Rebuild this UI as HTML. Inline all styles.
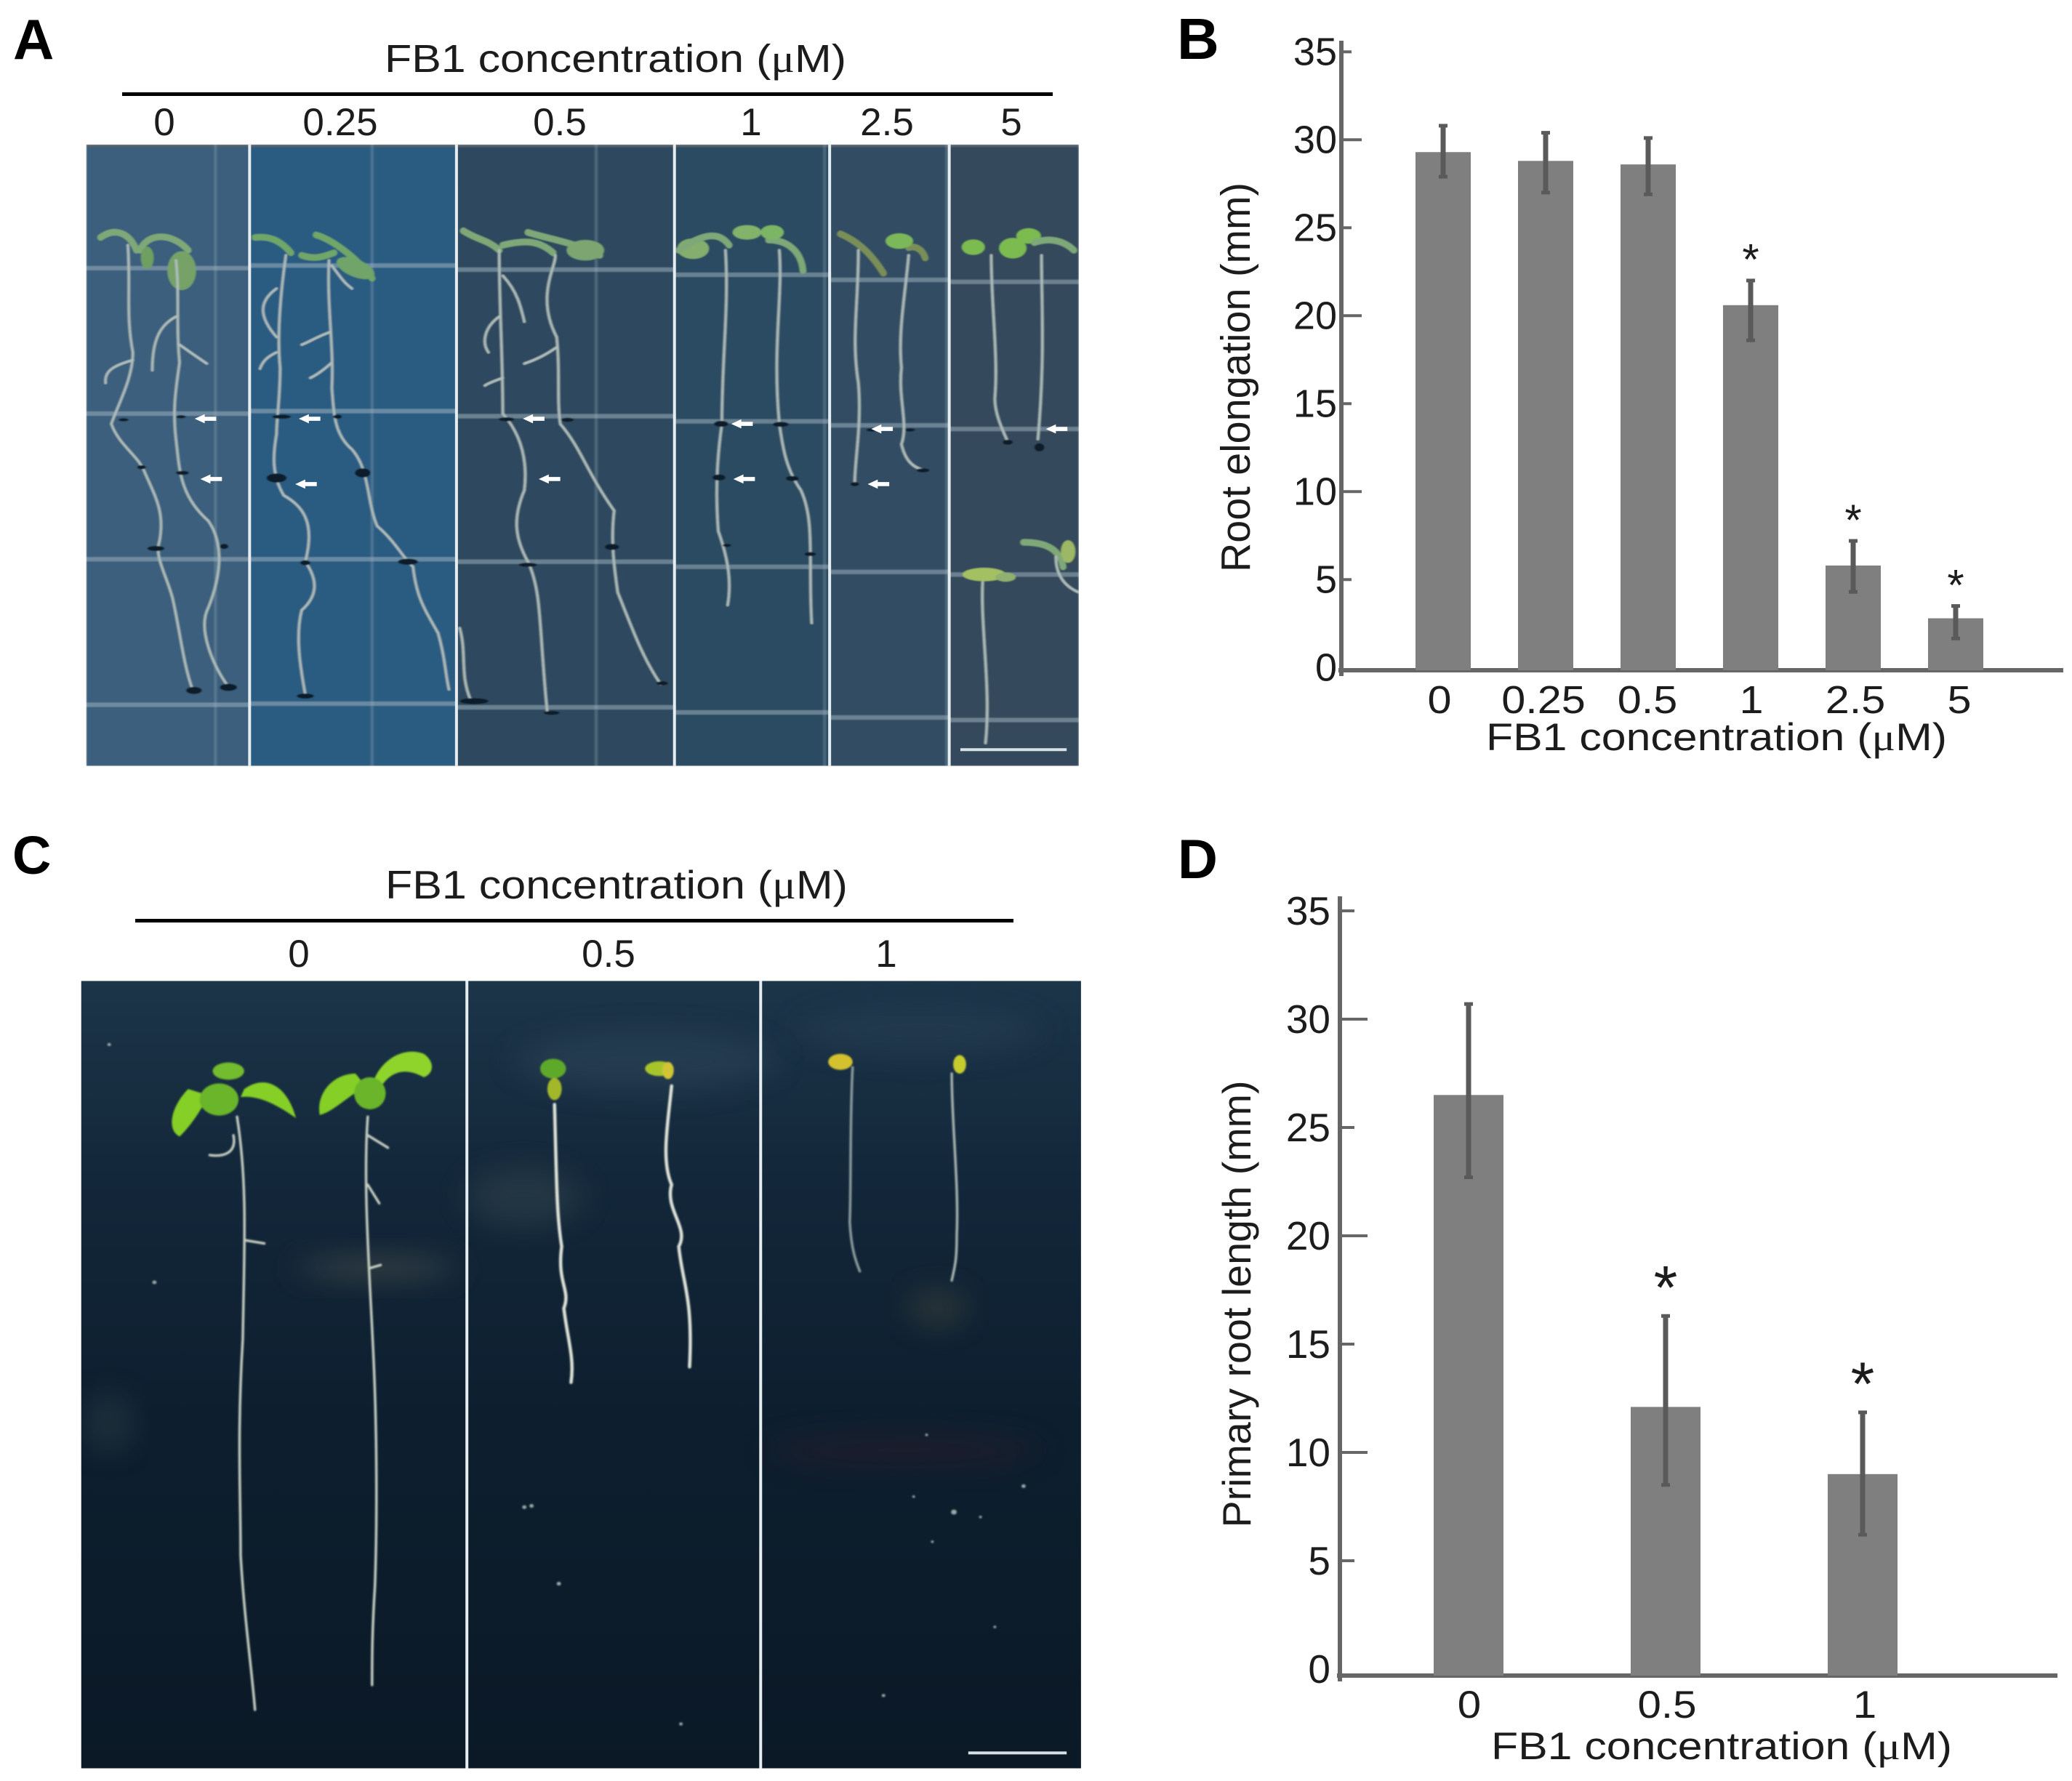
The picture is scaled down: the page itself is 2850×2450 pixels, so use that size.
<!DOCTYPE html>
<html lang="en">
<head>
<meta charset="utf-8">
<title>FB1 concentration root growth figure</title>
<style>
html,body{margin:0;padding:0;background:#fff;}
svg{display:block;}
text{font-family:"Liberation Sans",sans-serif;fill:#1c1c1c;}
.ns *{vector-effect:non-scaling-stroke;}
.root{fill:none;stroke:#aebdbb;stroke-width:3.5;stroke-linecap:round;}
.grid{stroke:#a3b8c4;stroke-opacity:.5;stroke-width:6;fill:none;}
.vgrid{stroke:#a3b8c4;stroke-opacity:.28;stroke-width:4;fill:none;}
.div{stroke:#e6edf0;stroke-width:4;fill:none;}
.leaf{fill:none;stroke:#7fa878;stroke-width:9;stroke-linecap:round;}
.mark{fill:#0e1c2a;}
.croot{fill:none;stroke:#c4ccc0;stroke-width:3.5;stroke-linecap:round;}
.arrow{fill:#fff;stroke:none;}
</style>
</head>
<body>
<svg xmlns="http://www.w3.org/2000/svg" width="2850" height="2450" viewBox="0 0 2850 2450">
<defs>
<clipPath id="clipA"><rect x="120" y="283" width="1382" height="1217"/></clipPath>
<clipPath id="clipC"><rect x="113" y="270" width="1392" height="1275"/></clipPath>
<filter id="soft" x="-2%" y="-2%" width="104%" height="104%"><feGaussianBlur stdDeviation="1.2"/></filter>
<filter id="haze" x="-30%" y="-60%" width="160%" height="220%"><feGaussianBlur stdDeviation="22"/></filter>
<linearGradient id="gC" x1="0" y1="0" x2="0" y2="1">
<stop offset="0" stop-color="#1c3549"/><stop offset=".25" stop-color="#13273a"/><stop offset=".55" stop-color="#0d1f2f"/><stop offset="1" stop-color="#0b1926"/>
</linearGradient>
<path id="arw" d="M-16 0 L-2 -9 L-2 -4 L14 -4 L14 4 L-2 4 L-2 9 Z"/>
</defs>
<rect width="2850" height="2450" fill="#fff"/>

<text x="18" y="81" font-size="78" font-weight="700" style="fill:#000">A</text>
<text x="1619" y="81" font-size="80" font-weight="700" style="fill:#000">B</text>
<text x="17" y="1202" font-size="74" font-weight="700" style="fill:#000">C</text>
<text x="1620" y="1208" font-size="76" font-weight="700" style="fill:#000">D</text>

<text x="529" y="99" font-size="54" textLength="635" lengthAdjust="spacingAndGlyphs">FB1 concentration (<tspan style="font-family:'Liberation Serif',serif">μ</tspan>M)</text>
<rect x="168" y="127" width="1280" height="5" fill="#000"/>
<g font-size="53" text-anchor="middle">
<text x="226" y="186" text-anchor="middle">0</text>
<text x="468" y="186" text-anchor="middle">0.25</text>
<text x="770" y="186" text-anchor="middle">0.5</text>
<text x="1033" y="186" text-anchor="middle">1</text>
<text x="1220" y="186" text-anchor="middle">2.5</text>
<text x="1391" y="186" text-anchor="middle">5</text>
</g>

<g class="ns" transform="scale(0.988,0.7025)">
<g clip-path="url(#clipA)">
<g filter="url(#soft)">
<rect x="120" y="283" width="228" height="1217" fill="#3a5f7c"/>
<rect x="348" y="283" width="288" height="1217" fill="#2c5c82"/>
<rect x="636" y="283" width="304" height="1217" fill="#2f4a5e"/>
<rect x="940" y="283" width="216" height="1217" fill="#2c4b62"/>
<rect x="1156" y="283" width="166" height="1217" fill="#324d63"/>
<rect x="1322" y="283" width="180" height="1217" fill="#34485c"/>
<rect x="120" y="283" width="1382" height="5" fill="#55606a"/>

<path class="grid" d="M120 525H348M120 810H348M120 1095H348M120 1380H348M348 520H636M348 805H636M348 1095H636M348 1378H636M636 528H940M636 815H940M636 1100H940M636 1385H940M940 538H1156M940 825H1156M940 1110H1156M940 1395H1156M1156 548H1322M1156 833H1322M1156 1120H1322M1156 1405H1322M1322 552H1502M1322 840H1502M1322 1125H1502M1322 1410H1502"/>
<path class="vgrid" d="M300 283V1500M518 283V1500M830 283V1500M1148 283V1500M1318 283V1500"/>

<g>
<path class="leaf" d="M140 465C160 445 180 455 190 490M195 490C205 455 240 455 262 490"/>
<ellipse cx="253" cy="530" rx="20" ry="38" fill="#76a267"/>
<ellipse cx="205" cy="505" rx="9" ry="22" fill="#6f9f62"/>
<path class="leaf" style="stroke:#6fa668" d="M355 465C375 462 390 470 405 495M440 460C465 470 500 510 518 545M420 500C440 510 455 500 465 495"/>
<ellipse cx="495" cy="525" rx="30" ry="16" transform="rotate(35 495 525)" fill="#6fa468"/>
<path class="leaf" d="M645 452C665 470 680 470 695 490M735 455C770 470 800 475 835 500M700 480C730 470 750 470 770 495"/>
<ellipse cx="815" cy="490" rx="26" ry="20" fill="#7ca572"/>
<ellipse cx="965" cy="487" rx="22" ry="20" fill="#84ad6e"/>
<ellipse cx="1040" cy="455" rx="20" ry="14" fill="#82b36a"/>
<path class="leaf" d="M945 490C975 460 1000 450 1015 480M1070 470C1095 470 1115 490 1118 530"/>
<ellipse cx="1075" cy="455" rx="16" ry="14" fill="#7db566"/>
<path class="leaf" style="stroke:#7a8f58" d="M1170 458C1190 470 1210 490 1230 535M1265 485C1275 480 1285 490 1288 505"/>
<ellipse cx="1252" cy="472" rx="19" ry="15" fill="#7cb85a"/>
<ellipse cx="1355" cy="484" rx="16" ry="15" fill="#7cbb50"/>
<ellipse cx="1410" cy="486" rx="19" ry="20" fill="#7cbb50"/>
<ellipse cx="1432" cy="462" rx="17" ry="15" fill="#7cbb50"/>
<path class="leaf" d="M1440 475C1460 465 1480 470 1495 490"/>
<ellipse cx="1370" cy="1125" rx="30" ry="13" fill="#a3c164"/>
<ellipse cx="1400" cy="1130" rx="14" ry="9" fill="#8fb070"/>
<path class="leaf" d="M1425 1062C1450 1062 1475 1070 1480 1110"/>
<ellipse cx="1487" cy="1080" rx="10" ry="22" fill="#9cb866"/>
</g>

<g>
<path class="root" d="M178 480C182 560 175 620 185 690C185 740 165 790 155 830C165 870 190 890 200 920C215 970 230 1000 222 1060C215 1090 230 1120 240 1170C250 1230 255 1300 268 1350"/>
<path class="root" d="M245 510C250 570 245 640 250 710C245 760 240 800 245 860C250 920 250 970 290 1020C310 1060 310 1120 290 1190C275 1230 295 1300 318 1345"/>
<path class="root" d="M185 705C160 715 145 725 147 750M245 620C225 635 212 660 212 725M250 675C265 690 275 700 288 712"/>
<path class="root" d="M398 500C392 560 385 650 390 720C390 780 385 820 385 850C380 890 378 930 395 970C420 990 440 1020 425 1100C445 1140 440 1170 420 1195C410 1250 420 1320 425 1360"/>
<path class="root" d="M458 510C455 600 465 680 462 760C465 810 465 850 490 880C515 920 510 980 525 1030C550 1060 560 1090 575 1110C580 1170 590 1190 610 1240C620 1290 620 1320 625 1350"/>
<path class="root" d="M385 565C360 590 360 620 385 660M385 690C370 700 365 710 362 722M460 650C440 660 430 670 420 675M462 710C450 725 440 735 432 740M462 520C475 545 480 555 490 565"/>
<path class="root" d="M695 490C695 600 700 700 700 810C725 850 735 900 730 960C715 1010 715 1050 735 1100C755 1160 750 1230 762 1395"/>
<path class="root" d="M773 500C775 520 745 580 775 660C780 730 775 780 780 830C810 880 815 920 855 1000C850 1060 855 1110 860 1160C880 1230 895 1290 920 1340"/>
<path class="root" d="M640 1230C650 1280 640 1320 655 1370M700 540C720 570 725 600 730 630M695 620C675 640 670 670 680 690M700 740C690 745 680 750 675 755M775 680C760 695 745 705 730 712"/>
<path class="root" d="M1010 490C1015 600 1005 700 1005 830C1000 880 995 950 1000 1040C1010 1080 1020 1130 1013 1185"/>
<path class="root" d="M1085 490C1090 580 1075 680 1085 830C1090 880 1095 920 1115 960C1135 1020 1125 1100 1130 1220"/>
<path class="root" d="M1195 490C1195 600 1185 660 1195 750C1200 830 1190 900 1190 945"/>
<path class="root" d="M1265 500C1260 580 1250 650 1255 720C1250 780 1265 830 1255 870C1260 900 1270 915 1285 920"/>
<path class="root" d="M1380 500C1380 600 1390 700 1385 780C1385 810 1395 840 1403 865"/>
<path class="root" d="M1450 500C1450 600 1455 700 1445 860"/>
<path class="root" d="M1368 1140C1365 1230 1380 1350 1372 1455M1470 1090C1470 1130 1485 1150 1502 1160"/>
</g>

<g>
<ellipse class="mark" cx="172" cy="822" rx="7" ry="3"/><ellipse class="mark" cx="252" cy="816" rx="7" ry="3"/>
<ellipse class="mark" cx="197" cy="915" rx="6" ry="4"/><ellipse class="mark" cx="254" cy="926" rx="9" ry="4"/>
<ellipse class="mark" cx="217" cy="1074" rx="12" ry="5"/><ellipse class="mark" cx="312" cy="1070" rx="6" ry="5"/>
<ellipse class="mark" cx="270" cy="1352" rx="11" ry="7"/><ellipse class="mark" cx="318" cy="1346" rx="12" ry="7"/>
<ellipse class="mark" cx="392" cy="816" rx="13" ry="4"/><ellipse class="mark" cx="470" cy="816" rx="6" ry="4"/>
<ellipse class="mark" cx="385" cy="936" rx="14" ry="9"/><ellipse class="mark" cx="505" cy="926" rx="11" ry="9"/>
<ellipse class="mark" cx="425" cy="1102" rx="7" ry="5"/><ellipse class="mark" cx="568" cy="1100" rx="14" ry="6"/>
<ellipse class="mark" cx="425" cy="1363" rx="12" ry="5"/><ellipse class="mark" cx="705" cy="821" rx="11" ry="4"/>
<ellipse class="mark" cx="790" cy="822" rx="9" ry="4"/><ellipse class="mark" cx="735" cy="1106" rx="13" ry="4"/>
<ellipse class="mark" cx="852" cy="1071" rx="10" ry="6"/><ellipse class="mark" cx="660" cy="1373" rx="20" ry="6"/>
<ellipse class="mark" cx="768" cy="1396" rx="11" ry="4"/><ellipse class="mark" cx="922" cy="1338" rx="8" ry="4"/>
<ellipse class="mark" cx="1004" cy="830" rx="10" ry="6"/><ellipse class="mark" cx="1087" cy="831" rx="11" ry="5"/>
<ellipse class="mark" cx="1001" cy="935" rx="9" ry="6"/><ellipse class="mark" cx="1103" cy="937" rx="9" ry="5"/>
<ellipse class="mark" cx="1128" cy="1085" rx="8" ry="4"/><ellipse class="mark" cx="1012" cy="1068" rx="6" ry="3"/>
<ellipse class="mark" cx="1213" cy="842" rx="7" ry="3"/><ellipse class="mark" cx="1267" cy="842" rx="7" ry="3"/>
<ellipse class="mark" cx="1285" cy="921" rx="9" ry="4"/><ellipse class="mark" cx="1190" cy="948" rx="6" ry="4"/>
<ellipse class="mark" cx="1403" cy="866" rx="7" ry="5"/><ellipse class="mark" cx="1447" cy="876" rx="7" ry="8"/>
</g>
</g>
<g>
<use href="#arw" class="arrow" transform="translate(287,820)"/>
<use href="#arw" class="arrow" transform="translate(295,938)"/>
<use href="#arw" class="arrow" transform="translate(432,820)"/>
<use href="#arw" class="arrow" transform="translate(427,948)"/>
<use href="#arw" class="arrow" transform="translate(744,820)"/>
<use href="#arw" class="arrow" transform="translate(766,938)"/>
<use href="#arw" class="arrow" transform="translate(1034,830)"/>
<use href="#arw" class="arrow" transform="translate(1037,938)"/>
<use href="#arw" class="arrow" transform="translate(1229,840)"/>
<use href="#arw" class="arrow" transform="translate(1224,948)"/>
<use href="#arw" class="arrow" transform="translate(1472,840)"/>
</g>
<path class="div" d="M347.5 283V1500M635.5 283V1500M939 283V1500M1155 283V1500M1321.5 283V1500"/>
<path d="M1337 1468H1485" style="stroke:#d8e2e6;stroke-width:4;fill:none"/>
</g>
</g>

<text x="530" y="1236" font-size="55" textLength="636" lengthAdjust="spacingAndGlyphs">FB1 concentration (<tspan style="font-family:'Liberation Serif',serif">μ</tspan>M)</text>
<rect x="186" y="1264" width="1208" height="5" fill="#000"/>
<text x="411" y="1330" font-size="53" text-anchor="middle">0</text>
<text x="837" y="1330" font-size="53" text-anchor="middle">0.5</text>
<text x="1219" y="1330" font-size="53" text-anchor="middle">1</text>

<g class="ns" transform="translate(0,1120) scale(0.988,0.8496)">
<g clip-path="url(#clipC)">
<rect x="113" y="270" width="1392" height="1275" fill="url(#gC)"/>
<g>
<ellipse cx="525" cy="735" rx="110" ry="22" fill="#55594f" opacity=".45" filter="url(#haze)"/>
<ellipse cx="730" cy="620" rx="80" ry="50" fill="#4a5a5c" opacity=".3" filter="url(#haze)"/>
<ellipse cx="1305" cy="800" rx="40" ry="32" fill="#51503c" opacity=".4" filter="url(#haze)"/>
<ellipse cx="150" cy="985" rx="35" ry="50" fill="#3b4a50" opacity=".35" filter="url(#haze)"/>
<ellipse cx="1260" cy="1030" rx="190" ry="30" fill="#3a1b28" opacity=".3" filter="url(#haze)"/>
<ellipse cx="900" cy="400" rx="180" ry="50" fill="#3a5266" opacity=".35" filter="url(#haze)"/>
<ellipse cx="1280" cy="350" rx="170" ry="40" fill="#2e465c" opacity=".35" filter="url(#haze)"/>
</g>
<g filter="url(#soft)">
<g>
<path class="croot" d="M330 490C345 600 340 700 338 850C330 1000 335 1100 335 1200C340 1300 350 1380 355 1450"/>
<path class="croot" d="M512 490C505 600 515 750 520 880C525 1000 525 1150 522 1250C518 1320 518 1370 518 1410"/>
<path class="croot" d="M342 690L368 695M325 520C330 550 310 555 292 552M512 600L528 630M515 735L530 730M512 520L540 540"/>
<path class="croot" style="stroke:#dfe3d8;stroke-width:4.5" d="M772 470C775 600 775 650 782 700C775 760 795 770 785 800C790 850 800 880 795 920"/>
<path class="croot" style="stroke:#dfe3d8;stroke-width:4.5" d="M935 440C930 500 920 560 935 600C925 640 960 670 945 700C950 760 965 780 960 895"/>
<path class="croot" style="stroke:#8c9c9c" d="M1187 410C1183 500 1185 600 1183 660C1185 700 1190 720 1197 740"/>
<path class="croot" style="stroke:#a6b2ae" d="M1325 420C1325 500 1335 600 1332 680C1332 720 1330 730 1325 755"/>
</g>
<g>
<path d="M262 445C240 470 230 510 250 522C265 505 280 480 290 455Z" fill="#85cf26"/>
<path d="M340 445C370 420 400 440 412 492C385 470 360 455 335 458Z" fill="#85cf26"/>
<ellipse cx="305" cy="462" rx="27" ry="26" fill="#6ab52c"/>
<ellipse cx="318" cy="416" rx="22" ry="14" fill="#72bc2f"/>
<path d="M495 420C465 420 440 450 445 487C465 482 490 450 510 442Z" fill="#85cf26"/>
<path d="M520 432C530 400 560 375 590 388C605 400 605 420 590 426C565 410 545 415 530 442Z" fill="#8ed42c"/>
<ellipse cx="515" cy="452" rx="22" ry="26" fill="#6ab52c"/>
<ellipse cx="770" cy="412" rx="18" ry="16" fill="#5fa92c"/>
<ellipse cx="772" cy="445" rx="10" ry="18" fill="#a2b72a"/>
<ellipse cx="918" cy="412" rx="20" ry="12" fill="#a7c52a"/>
<ellipse cx="930" cy="415" rx="8" ry="14" fill="#d1c435"/>
<ellipse cx="1170" cy="401" rx="17" ry="13" fill="#d3c12f"/>
<ellipse cx="1336" cy="405" rx="9" ry="15" fill="#c6cb2d"/>
</g>
<g fill="#9aa8a8">
<circle cx="152" cy="373" r="2.5"/><circle cx="215" cy="758" r="3"/><circle cx="730" cy="1122" r="3"/><circle cx="740" cy="1120" r="3"/><circle cx="778" cy="1246" r="3"/><circle cx="948" cy="1473" r="2.5"/><circle cx="1230" cy="1427" r="2.5"/><circle cx="1328" cy="1130" r="4"/><circle cx="1425" cy="1088" r="3"/><circle cx="1298" cy="1178" r="2"/><circle cx="1365" cy="1138" r="2"/><circle cx="1385" cy="1316" r="2"/><circle cx="1290" cy="1005" r="2"/><circle cx="1272" cy="1105" r="2"/>
</g>
</g>
<path class="div" d="M650 270V1545M1059 270V1545"/>
<path d="M1348 1520H1485" style="stroke:#d8e2e6;stroke-width:4;fill:none"/>
</g>
</g>

<g id="chartB"></g>
<g id="chartD"></g>
</svg>

<script>
const bCategories = ['0', '0.25', '0.5', '1', '2.5', '5'];
const bValues = [29.3, 28.8, 28.6, 20.6, 5.8, 2.8];
const bErrHigh = [30.8, 30.4, 30.1, 22.0, 7.2, 3.5];
const bErrLow = [27.9, 27.0, 26.9, 18.6, 4.3, 1.65];
const bSignificant = [0, 0, 0, 1, 1, 1];
const bTicks = [0, 5, 10, 15, 20, 25, 30, 35];

const dCategories = ['0', '0.5', '1'];
const dValues = [26.5, 12.1, 9.0];
const dErrHigh = [30.7, 16.3, 11.85];
const dErrLow = [22.7, 8.5, 6.2];
const dSignificant = [0, 1, 1];
const dTicks = [0, 5, 10, 15, 20, 25, 30, 35];

const SVGNS = 'http://www.w3.org/2000/svg';
function mk(tag, attrs, parent) {
  const el = document.createElementNS(SVGNS, tag);
  for (const k in attrs) el.setAttribute(k, attrs[k]);
  parent.appendChild(el);
  return el;
}
function drawChart(root, o) {
  const axisColor = '#666666';
  const yAxis = mk('line', {x1: o.axisX, x2: o.axisX, y1: o.axisTop, y2: o.base + 8, stroke: axisColor, 'stroke-width': 6}, root);
  
  
  const xAxis = mk('line', {x1: o.axisX - 4, x2: o.axisEnd, y1: o.base, y2: o.base, stroke: axisColor, 'stroke-width': 6}, root);
  
  

  o.ticks.forEach(function (t) {
    const y = o.y(t);
    if (t !== 0) {
      const len = t % 10 === 0 ? o.majorLen : o.minorLen;
      const tk = mk('line', {x1: o.axisX, x2: o.axisX + len, y1: y, y2: y, stroke: axisColor, 'stroke-width': 4}, root);
      
      
    }
    const lb = mk('text', {x: o.tickLabelX, y: y + o.tickLabelDy, 'font-size': o.tickFont, 'text-anchor': 'end'}, root);
    lb.textContent = String(t);
    
    
  });

  o.categories.forEach(function (c, i) {
    const cx = o.x(i);
    const top = o.y(o.values[i]);
    const bar = mk('rect', {x: cx - o.barW / 2, y: top, width: o.barW, height: o.base - top, fill: '#7f7f7f'}, root);
    
    

    const hi = o.y(o.errHigh[i]);
    const lo = o.y(o.errLow[i]);
    const err = mk('line', {x1: cx, x2: cx, y1: hi, y2: lo, stroke: '#5a5a5a', 'stroke-width': 7}, root);
    
    
    const capA = mk('line', {x1: cx - 6, x2: cx + 6, y1: hi, y2: hi, stroke: '#5a5a5a', 'stroke-width': 5}, root);
    
    
    const capB = mk('line', {x1: cx - 6, x2: cx + 6, y1: lo, y2: lo, stroke: '#5a5a5a', 'stroke-width': 5}, root);
    
    

    if (o.significant[i]) {
      const star = mk('text', {x: cx, y: hi - o.starGap + o.starFont * 0.58, 'font-size': o.starFont, 'text-anchor': 'middle'}, root);
      star.textContent = '*';
      
      
    }

    const cl = mk('text', {'font-size': o.catFont, 'text-anchor': 'middle', transform: 'translate(' + o.labelX(i) + ',' + o.catBaseline + ') scale(' + o.catStretch + ',1)'}, root);
    cl.textContent = c;
    
    
  });

  const xt = mk('text', {x: o.xTitleX, y: o.xTitleY, 'font-size': 53, textLength: 634, lengthAdjust: 'spacingAndGlyphs'}, root);
  xt.appendChild(document.createTextNode('FB1 concentration ('));
  const mu = mk('tspan', {style: "font-family:'Liberation Serif',serif"}, xt);
  mu.textContent = 'μ';
  xt.appendChild(document.createTextNode('M)'));
  
  

  const yt = mk('text', {'font-size': o.yTitleFont, 'text-anchor': 'middle', textLength: o.yTitleLen, lengthAdjust: 'spacingAndGlyphs', transform: 'translate(' + o.yTitleX + ',' + o.yTitleY + ') rotate(-90)'}, root);
  yt.textContent = o.yTitle;
  
  
}

drawChart(document.getElementById('chartB'), {
  categories: bCategories, values: bValues, errHigh: bErrHigh, errLow: bErrLow, significant: bSignificant, ticks: bTicks,
  y: function (v) { return 918.3 - v * 24.2; },
  x: function (i) { return 1985 + 141 * i; },
  labelX: function (i) { return 1980 + 143 * i; },
  base: 922, axisX: 1845, axisTop: 56, axisEnd: 2838, barW: 76,
  majorLen: 28, minorLen: 14, tickLabelX: 1839, tickLabelDy: 18, tickFont: 54,
  starGap: 43, starFont: 60,
  catFont: 54, catBaseline: 981, catStretch: 1.1,
  xTitleX: 2044, xTitleY: 1032,
  yTitle: 'Root elongation (mm)', yTitleFont: 57, yTitleLen: 536, yTitleX: 1719, yTitleY: 519
});

drawChart(document.getElementById('chartD'), {
  categories: dCategories, values: dValues, errHigh: dErrHigh, errLow: dErrLow, significant: dSignificant, ticks: dTicks,
  y: function (v) { return 2296 - v * 29.8; },
  x: function (i) { return 2020 + 271 * i; },
  labelX: function (i) { return 2021 + 272 * i; },
  base: 2305, axisX: 1843, axisTop: 1233, axisEnd: 2830, barW: 96,
  majorLen: 38, minorLen: 20, tickLabelX: 1830, tickLabelDy: 19, tickFont: 55,
  starGap: 59, starFont: 84,
  catFont: 53, catBaseline: 2363, catStretch: 1.1,
  xTitleX: 2051, xTitleY: 2420,
  yTitle: 'Primary root length (mm)', yTitleFont: 55, yTitleLen: 615, yTitleX: 1720, yTitleY: 1794
});
</script>
</body>
</html>
